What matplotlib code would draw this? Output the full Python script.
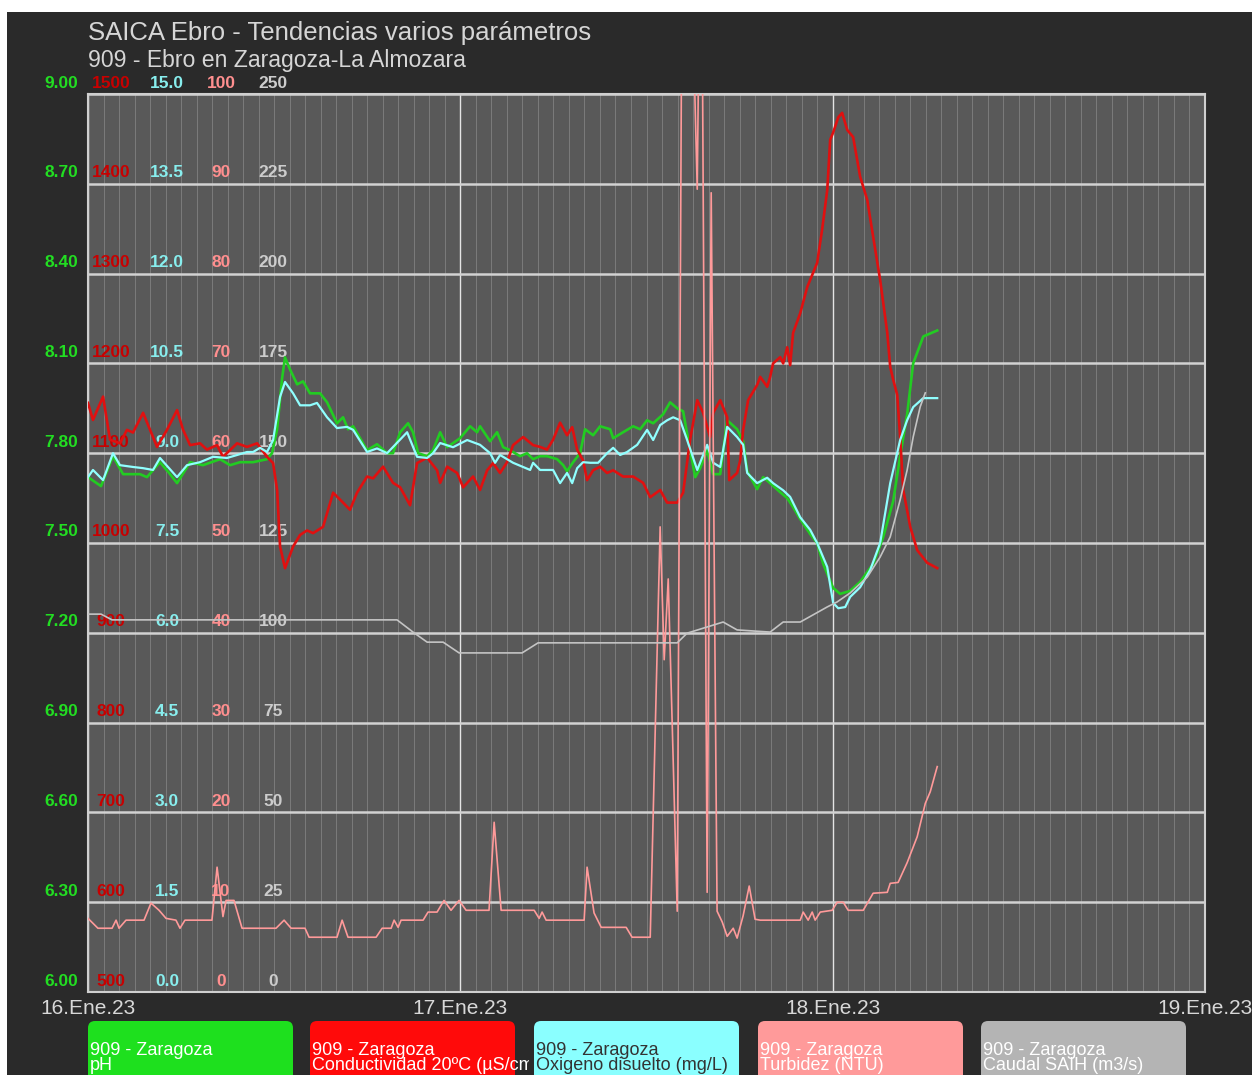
import numpy as np
import matplotlib
matplotlib.use("Agg")
import matplotlib.pyplot as plt
from matplotlib import transforms
from matplotlib.patches import Rectangle, FancyBboxPatch

plt.rcParams["font.family"] = ["Liberation Sans", "DejaVu Sans"]

W, H = 1252, 1075

# ---- data: hours since 16.Ene.23 00:00 -------------------------------------
ph_hours = [0.00, 0.84, 1.61, 2.26, 3.35, 3.80, 4.64, 5.29, 5.74, 6.58,
            7.41, 8.51, 9.16, 9.80, 10.64, 11.54, 11.86, 12.19, 12.51, 12.70,
            13.02, 13.48, 13.86, 14.31, 14.96, 15.41, 16.05, 16.44, 16.76, 17.09,
            17.99, 18.63, 19.28, 19.66, 20.12, 20.63, 20.95, 21.28, 21.86, 22.24,
            22.70, 23.15, 23.98, 24.63, 25.08, 25.27, 25.92, 26.37, 26.76, 27.21,
            27.85, 28.30, 28.69, 29.14, 29.59, 30.24, 30.63, 30.88, 31.27, 31.72,
            32.04, 32.56, 33.01, 33.66, 33.85, 34.49, 35.14, 35.59, 36.04, 36.43,
            37.07, 37.52, 37.98, 38.36, 38.81, 39.14, 39.46, 39.91, 40.30, 40.75,
            41.20, 41.84, 42.23, 42.49, 43.13, 43.52, 43.97, 44.61, 45.07, 45.45,
            45.91, 46.55, 47.00, 47.39, 48.03, 48.48, 49.13, 49.77, 50.61, 51.26,
            51.90, 52.35, 52.80, 53.19, 53.84, 54.74]
ph_values = [7.72, 7.69, 7.79, 7.73, 7.73, 7.72, 7.77, 7.73, 7.70, 7.77,
             7.76, 7.78, 7.76, 7.77, 7.77, 7.78, 7.80, 7.88, 8.05, 8.12,
             8.08, 8.03, 8.04, 8.00, 8.00, 7.97, 7.90, 7.92, 7.88, 7.89,
             7.81, 7.83, 7.80, 7.80, 7.87, 7.90, 7.87, 7.80, 7.79, 7.81,
             7.87, 7.82, 7.85, 7.89, 7.87, 7.89, 7.84, 7.87, 7.82, 7.81,
             7.79, 7.80, 7.78, 7.79, 7.79, 7.78, 7.76, 7.74, 7.77, 7.80,
             7.88, 7.86, 7.89, 7.88, 7.85, 7.87, 7.89, 7.88, 7.91, 7.90,
             7.93, 7.97, 7.95, 7.94, 7.81, 7.72, 7.75, 7.81, 7.73, 7.73,
             7.91, 7.88, 7.84, 7.74, 7.68, 7.72, 7.70, 7.67, 7.65, 7.62,
             7.58, 7.53, 7.50, 7.43, 7.35, 7.33, 7.34, 7.37, 7.43, 7.52,
             7.64, 7.79, 7.93, 8.10, 8.19, 8.21]

cond_hours = [0.00, 0.32, 0.97, 1.42, 2.06, 2.51, 2.90, 3.55, 4.00, 4.45,
              5.09, 5.74, 6.13, 6.58, 7.22, 7.67, 8.32, 8.70, 9.61, 10.25,
              10.90, 11.54, 11.93, 12.19, 12.38, 12.70, 13.22, 13.67, 14.12, 14.51,
              15.15, 15.80, 16.44, 16.89, 17.34, 17.99, 18.38, 19.02, 19.66, 20.12,
              20.76, 21.21, 21.86, 22.50, 22.70, 23.15, 23.79, 24.18, 24.82, 25.27,
              25.73, 26.11, 26.56, 27.01, 27.40, 28.05, 28.69, 29.14, 29.59, 29.98,
              30.43, 30.88, 31.21, 31.53, 31.91, 32.17, 32.56, 33.01, 33.46, 33.85,
              34.49, 35.14, 35.78, 36.24, 36.88, 37.33, 37.98, 38.36, 38.81, 39.27,
              39.65, 40.10, 40.30, 40.75, 41.20, 41.33, 41.84, 42.04, 42.23, 42.55,
              43.13, 43.33, 43.78, 43.97, 44.16, 44.62, 44.81, 45.07, 45.26, 45.45,
              45.91, 46.36, 46.74, 47.00, 47.32, 47.65, 47.84, 48.03, 48.36, 48.61,
              48.94, 49.32, 49.77, 50.23, 50.61, 51.06, 51.52, 51.71, 51.90, 52.16,
              52.35, 52.55, 53.00, 53.45, 54.09, 54.74]
cond_values = [1156, 1137, 1163, 1115, 1111, 1126, 1123, 1145, 1126, 1107,
               1126, 1148, 1126, 1109, 1111, 1104, 1109, 1096, 1111, 1107,
               1111, 1096, 1089, 1059, 996, 972, 996, 1009, 1014, 1011,
               1018, 1056, 1045, 1037, 1056, 1074, 1072, 1085, 1067, 1062,
               1042, 1089, 1095, 1081, 1067, 1085, 1078, 1062, 1074, 1059,
               1081, 1089, 1078, 1090, 1109, 1118, 1109, 1107, 1104, 1115,
               1134, 1120, 1129, 1104, 1092, 1070, 1081, 1085, 1078, 1081,
               1074, 1074, 1067, 1051, 1059, 1045, 1045, 1056, 1115, 1159,
               1145, 1118, 1145, 1159, 1140, 1070, 1078, 1092, 1126, 1159,
               1176, 1185, 1174, 1185, 1200, 1207, 1200, 1218, 1198, 1234,
               1256, 1285, 1301, 1312, 1349, 1393, 1449, 1457, 1474, 1479,
               1460, 1452, 1408, 1382, 1341, 1293, 1234, 1196, 1182, 1165,
               1118, 1059, 1018, 992, 978, 972]

oxy_hours = [0.00, 0.32, 0.97, 1.61, 2.06, 2.90, 3.55, 4.19, 4.64, 5.74,
             6.38, 7.22, 8.06, 8.96, 9.61, 10.25, 10.64, 11.09, 11.54, 11.93,
             12.38, 12.70, 13.22, 13.67, 14.31, 14.76, 15.41, 16.05, 16.70, 17.09,
             17.99, 18.63, 19.28, 20.57, 21.21, 21.86, 22.24, 22.70, 23.53, 24.44,
             25.27, 25.92, 26.24, 26.56, 27.40, 28.50, 28.69, 29.14, 29.98, 30.43,
             30.88, 31.21, 31.53, 31.91, 32.37, 32.88, 33.46, 33.85, 34.30, 34.75,
             35.40, 36.04, 36.43, 36.88, 37.33, 37.72, 38.17, 38.62, 39.27, 39.91,
             40.30, 40.75, 41.20, 41.84, 42.23, 42.49, 43.13, 43.78, 44.16, 44.81,
             45.26, 45.91, 46.55, 47.00, 47.65, 48.03, 48.36, 48.81, 49.13, 49.77,
             50.42, 51.06, 51.71, 52.35, 52.80, 53.19, 53.84, 54.74]
oxy_values = [8.60, 8.72, 8.55, 9.00, 8.80, 8.77, 8.75, 8.72, 8.92, 8.60,
              8.80, 8.85, 8.94, 8.92, 8.97, 9.02, 9.02, 9.09, 9.02, 9.22,
              9.94, 10.19, 10.00, 9.80, 9.80, 9.84, 9.60, 9.42, 9.44, 9.39,
              9.02, 9.08, 9.00, 9.35, 8.94, 8.92, 9.00, 9.17, 9.10, 9.22,
              9.14, 9.00, 8.84, 8.97, 8.84, 8.72, 8.84, 8.72, 8.72, 8.50,
              8.67, 8.50, 8.75, 8.85, 8.84, 8.84, 9.00, 9.09, 8.97, 9.02,
              9.14, 9.39, 9.22, 9.47, 9.55, 9.60, 9.55, 9.22, 8.72, 9.14,
              8.84, 8.77, 9.44, 9.27, 9.14, 8.67, 8.50, 8.59, 8.50, 8.38,
              8.27, 7.93, 7.72, 7.50, 7.10, 6.50, 6.41, 6.43, 6.60, 6.76,
              7.05, 7.50, 8.50, 9.22, 9.55, 9.77, 9.92, 9.92]

turb_hours = [0.00, 0.64, 1.55, 1.81, 2.00, 2.45, 3.61, 4.06, 4.58, 5.03,
              5.67, 5.93, 6.25, 7.99, 8.32, 8.70, 8.90, 9.41, 9.93, 12.12,
              12.64, 13.09, 13.99, 14.25, 16.05, 16.38, 16.76, 18.57, 18.96, 19.54,
              19.73, 19.99, 20.18, 21.60, 21.92, 22.50, 22.95, 23.40, 23.92, 24.37,
              25.85, 26.18, 26.63, 28.76, 29.08, 29.27, 29.53, 31.98, 32.17, 32.62,
              33.08, 34.69, 35.07, 36.24, 36.88, 37.14, 37.40, 37.65, 37.98, 38.36,
              38.75, 39.27, 39.52, 39.91, 40.17, 40.55, 40.88, 41.20, 41.59, 41.84,
              42.23, 42.62, 43.00, 43.33, 45.91, 46.10, 46.42, 46.68, 46.87, 47.20,
              47.97, 48.29, 48.68, 49.00, 49.97, 50.61, 51.52, 51.71, 52.22, 52.80,
              53.45, 53.97, 54.29, 54.74]
turb_values = [8.2, 7.1, 7.1, 8.0, 7.1, 8.0, 8.0, 9.9, 9.1, 8.2,
               8.0, 7.1, 8.0, 8.0, 13.9, 8.4, 10.2, 10.2, 7.1, 7.1,
               8.0, 7.1, 7.1, 6.1, 6.1, 8.0, 6.1, 6.1, 7.1, 7.1,
               8.0, 7.2, 8.0, 8.0, 8.9, 8.9, 10.2, 9.1, 10.2, 9.1,
               9.1, 18.9, 9.1, 9.1, 8.2, 8.9, 8.0, 8.0, 13.9, 8.8,
               7.2, 7.2, 6.1, 6.1, 51.8, 37.0, 46.0, 30.3, 9.0, 140.0,
               125.0, 89.4, 130.0, 11.1, 89.0, 9.0, 7.8, 6.2, 7.1, 6.0,
               8.5, 11.8, 8.1, 8.0, 8.0, 8.9, 8.0, 8.9, 8.0, 8.9,
               9.1, 10.0, 10.0, 9.1, 9.1, 11.0, 11.1, 12.1, 12.2, 14.4,
               17.3, 21.0, 22.3, 25.1]

flow_hours = [0.00, 0.84, 1.55, 19.92, 20.95, 21.86, 22.89, 23.92, 27.98, 29.01,
              37.98, 38.62, 40.94, 41.84, 43.97, 44.81, 45.91, 46.74, 47.65, 48.29,
              49.13, 50.23, 51.06, 51.71, 52.35, 52.80, 53.19, 53.64, 53.97]
flow_values = [105.2, 105.2, 103.6, 103.6, 100.2, 97.4, 97.4, 94.4, 94.4, 97.2,
               97.2, 99.9, 103.0, 100.8, 100.2, 103.0, 103.0, 105.0, 107.2, 108.6,
               111.1, 115.5, 121.1, 126.7, 137.0, 145.3, 154.5, 162.9, 166.8]

# axis scales (one per series) and date labels
ph_ticks = np.linspace(6.0, 9.0, 11)
cond_ticks = np.linspace(500, 1500, 11)
oxy_ticks = np.linspace(0.0, 15.0, 11)
turb_ticks = np.linspace(0, 100, 11)
flow_ticks = np.linspace(0, 250, 11)
day_hours = [0, 24, 48, 72]
day_labels = ["16.Ene.23", "17.Ene.23", "18.Ene.23", "19.Ene.23"]

legend_labels = ["909 - Zaragoza\npH",
                 "909 - Zaragoza\nConductividad 20ºC (µS/cm)",
                 "909 - Zaragoza\nOxigeno disuelto (mg/L)",
                 "909 - Zaragoza\nTurbidez (NTU)",
                 "909 - Zaragoza\nCaudal SAIH (m3/s)"]

# ---- figure ---------------------------------------------------------------
fig = plt.figure(figsize=(W / 100, H / 100), dpi=100)
fig.patch.set_facecolor("white")
fig.add_artist(Rectangle((7 / W, 0), 1 - 7 / W, 1 - 12 / H,
                         transform=fig.transFigure, facecolor="#2a2a2a",
                         edgecolor="none", zorder=-10))

L, R, T, B = 88, 1205, 94, 992
ax = fig.add_axes([L / W, 1 - B / H, (R - L) / W, (B - T) / H])
ax.set_facecolor("#595959")
ax.set_xlim(0, 72)
ax.set_ylim(6.0, 9.0)
ax.set_yticks(ph_ticks)
ax.set_xticks(day_hours)
ax.set_xticks(np.arange(1, 72), minor=True)
ax.set_xticklabels(day_labels)
ax.tick_params(axis="both", which="both", length=0)
ax.tick_params(axis="y", labelleft=False)
ax.tick_params(axis="x", colors="#d8d8d8", labelsize=15, pad=5)
ax.set_axisbelow(True)
ax.yaxis.grid(True, color="#d2d2d2", lw=1.8)
ax.xaxis.grid(True, which="major", color="#e4e4e4", lw=1.0)
ax.xaxis.grid(True, which="minor", color="#7c7c7c", lw=0.7)
for s in ax.spines.values():
    s.set_color("#cfcfcf")
    s.set_linewidth(1.5)

ax_c = ax.twinx()
ax_o = ax.twinx()
ax_t = ax.twinx()
ax_q = ax.twinx()
for a, lim in ((ax_c, (500, 1500)), (ax_o, (0, 15)),
               (ax_t, (0, 100)), (ax_q, (0, 250))):
    a.set_ylim(*lim)
    a.set_axis_off()

ax.plot(ph_hours, ph_values, color="#22cc22", lw=1.9, zorder=2)
ax_c.plot(cond_hours, cond_values, color="#e01010", lw=1.9, zorder=2)
ax_o.plot(oxy_hours, oxy_values, color="#90ffff", lw=1.6, zorder=2)
ax_t.plot(turb_hours, turb_values, color="#ff9a9a", lw=1.2, zorder=2)
ax_q.plot(flow_hours, flow_values, color="#c4c4c4", lw=1.2, zorder=2)

# scale labels sitting just above each horizontal grid line
lift = transforms.ScaledTranslation(0, 11 / 100, fig.dpi_scale_trans)
label_specs = [
    (ax, ph_ticks, "{:.2f}", 78, "right", "#22dd22"),
    (ax_c, cond_ticks, "{:.0f}", 111, "center", "#c80000"),
    (ax_o, oxy_ticks, "{:.1f}", 167, "center", "#88eeee"),
    (ax_t, turb_ticks, "{:.0f}", 221, "center", "#ff8f8f"),
    (ax_q, flow_ticks, "{:.0f}", 273, "center", "#cccccc"),
]
for scale_ax, ticks, fmt, xpx, ha, color in label_specs:
    tr = transforms.blended_transform_factory(fig.transFigure,
                                              scale_ax.transData) + lift
    for v in ticks:
        ax.text(xpx / W, v, fmt.format(v), transform=tr, ha=ha, va="center",
                fontsize=12.5, fontweight="bold", color=color,
                clip_on=False, zorder=1.5)

# titles
fig.text(L / W, 1 - 33 / H, "SAICA Ebro - Tendencias varios parámetros",
         ha="left", va="center", fontsize=18.5, color="#d6d6d6")
fig.text(L / W, 1 - 61 / H, "909 - Ebro en Zaragoza-La Almozara",
         ha="left", va="center", fontsize=16.6, color="#d6d6d6")

# legend boxes
box_left = [88, 310, 534, 758, 981]
box_width = 205
box_colors = ["#1ee01e", "#ff0a0a", "#8affff", "#ff9a9a", "#b4b4b4"]
text_colors = ["white", "white", "#333333", "white", "white"]
box_top = 1021
for x0, lab, bc, tc in zip(box_left, legend_labels, box_colors, text_colors):
    patch = FancyBboxPatch((x0 / 100, (H - box_top - 80) / 100),
                           box_width / 100, 80 / 100,
                           boxstyle="round,pad=0,rounding_size=0.07",
                           transform=fig.dpi_scale_trans,
                           facecolor=bc, edgecolor="none")
    fig.add_artist(patch)
    t = fig.text((x0 + 2) / W, 1 - 1058 / H, lab, ha="left", va="center",
                 fontsize=13, color=tc, linespacing=0.85)
    clip = transforms.TransformedBbox(
        transforms.Bbox.from_extents((x0 - 2) / 100, 0,
                                     (x0 + box_width + 14) / 100,
                                     (H - box_top) / 100),
        fig.dpi_scale_trans)
    t.set_clip_box(clip)
    t.set_clip_on(True)

fig.savefig("out.png", dpi=100, facecolor=fig.get_facecolor())
